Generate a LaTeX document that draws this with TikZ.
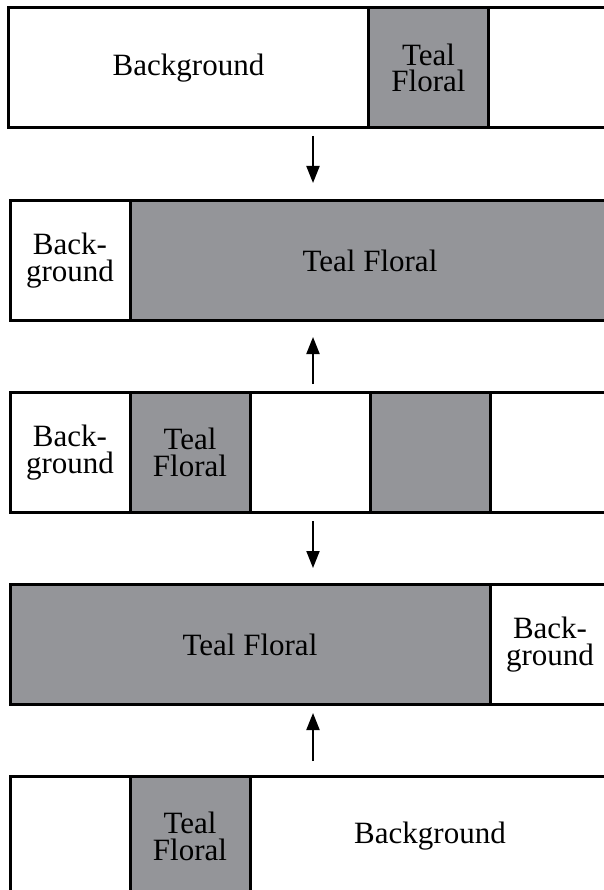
\documentclass[tikz,border=0pt]{standalone}
\usepackage{fontspec}
\setmainfont{Liberation Serif}
\usetikzlibrary{arrows.meta}
\definecolor{cellgray}{RGB}{148,149,153}
\tikzset{
  cell/.style={draw=black, line width=3pt, anchor=north west, inner sep=0pt,
    minimum height=120pt, align=center,
    font=\fontsize{31}{26.5}\selectfont},
  plain/.style={cell, fill=white},
  shade/.style={cell, fill=cellgray},
  flow/.style={line width=2pt, -{Triangle[width=13pt,length=17pt]}}
}
\begin{document}
\begin{tikzpicture}[x=1pt,y=-1pt]
\useasboundingbox (0,0) rectangle (604,890);
\clip (0,0) rectangle (604,890);
\fill[white] (0,0) rectangle (604,890);
% bar 1
\node[plain, minimum width=360pt] (r1a) at (7,6.5) {Background};
\node[shade, minimum width=120pt] (r1b) at (367,6.5) {Teal\\Floral};
\node[plain, minimum width=120pt] (r1c) at (487,6.5) {};
% bar 2
\node[plain, minimum width=120pt] (r2a) at (8.5,199) {Back-\\ground};
\node[shade, minimum width=480pt] (r2b) at (128.5,199) {Teal Floral};
% bar 3
\node[plain, minimum width=120pt] (r3a) at (8.5,391) {Back-\\ground};
\node[shade, minimum width=120pt] (r3b) at (128.5,391) {Teal\\Floral};
\node[plain, minimum width=120pt] (r3c) at (248.5,391) {};
\node[shade, minimum width=120pt] (r3d) at (368.5,391) {};
\node[plain, minimum width=120pt] (r3e) at (488.5,391) {};
% bar 4
\node[shade, minimum width=480pt] (r4a) at (8.5,583) {Teal Floral};
\node[plain, minimum width=120pt] (r4b) at (488.5,583) {Back-\\ground};
% bar 5
\node[plain, minimum width=120pt] (r5a) at (8.5,775) {};
\node[shade, minimum width=120pt] (r5b) at (128.5,775) {Teal\\Floral};
\node[plain, minimum width=360pt] (r5c) at (248.5,775) {Background};
% arrows
\coordinate (a1s) at (313,136);
\coordinate (a1e) at (313,183);
\coordinate (a2s) at (313,384);
\coordinate (a2e) at (313,337);
\coordinate (a3s) at (313,521);
\coordinate (a3e) at (313,568);
\coordinate (a4s) at (313,761);
\coordinate (a4e) at (313,713);
\draw[flow] (a1s) -- (a1e);
\draw[flow] (a2s) -- (a2e);
\draw[flow] (a3s) -- (a3e);
\draw[flow] (a4s) -- (a4e);
\end{tikzpicture}
\end{document}
